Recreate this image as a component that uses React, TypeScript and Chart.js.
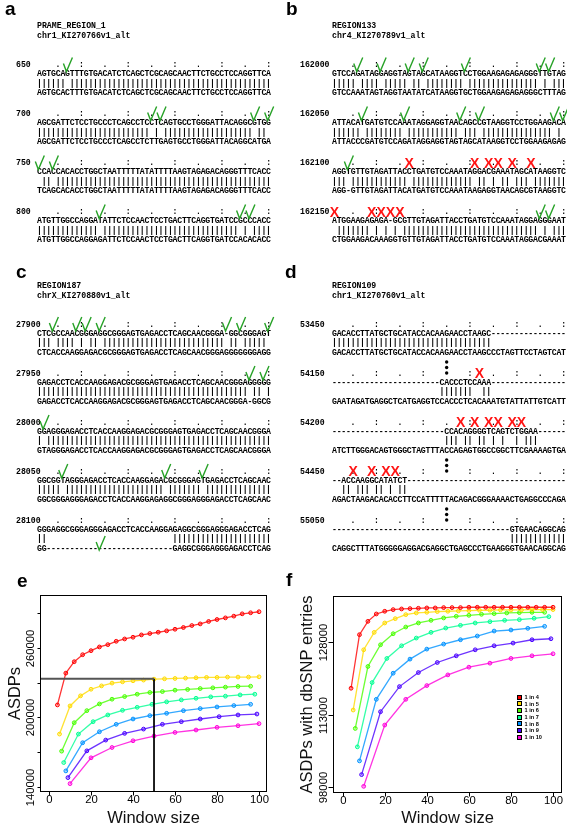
import React, { useEffect, useRef } from "react";
import { Chart, registerables } from "chart.js";
Chart.register(...registerables);

// ---------------- chart data (panels e, f) ----------------
const seriesLabels = ["1 in 4", "1 in 5", "1 in 6", "1 in 7", "1 in 8", "1 in 9", "1 in 10"];
const seriesColors = ["#FF0000", "#FFDB00", "#49FF00", "#00FF92", "#0092FF", "#4900FF", "#FF00DB"];

const xIn4 = [4, 8, 12, 16, 20, 24, 28, 32, 36, 40, 44, 48, 52, 56, 60, 64, 68, 72, 76, 80, 84, 88, 92, 96, 100];
const xIn5 = [5, 10, 15, 20, 25, 30, 35, 40, 45, 50, 55, 60, 65, 70, 75, 80, 85, 90, 95, 100];
const xIn6 = [6, 12, 18, 24, 30, 36, 42, 48, 54, 60, 66, 72, 78, 84, 90, 96];
const xIn7 = [7, 14, 21, 28, 35, 42, 49, 56, 63, 70, 77, 84, 91, 98];
const xIn8 = [8, 16, 24, 32, 40, 48, 56, 64, 72, 80, 88, 96];
const xIn9 = [9, 18, 27, 36, 45, 54, 63, 72, 81, 90, 99];
const xIn10 = [10, 20, 30, 40, 50, 60, 70, 80, 90, 100];

// e: ASDPs
const eIn4 = [210850, 238300, 248150, 254200, 257700, 260900, 262900, 265800, 267800, 269300, 271300, 272500, 273600, 274800, 276200, 277700, 279400, 280800, 282900, 284600, 286000, 287500, 289500, 290400, 291300];
const eIn5 = [185700, 210000, 218700, 224400, 227300, 229700, 230800, 231700, 232300, 233100, 233400, 233700, 234000, 234300, 234600, 234600, 234900, 234900, 234900, 235100];
const eIn6 = [170950, 195500, 205900, 211700, 215800, 218100, 220100, 221600, 222400, 223600, 224200, 225000, 225600, 226200, 226800, 227000];
const eIn7 = [161100, 185700, 196400, 202200, 206200, 208800, 211400, 213500, 215200, 216600, 217800, 218400, 219500, 220100];
const eIn8 = [153900, 178200, 187700, 194100, 198700, 201600, 203600, 205900, 207700, 209100, 210300, 211400];
const eIn9 = [148100, 171200, 180500, 186300, 190000, 194100, 196400, 198700, 200700, 202200, 203000];
const eIn10 = [142900, 165200, 174100, 179900, 184000, 187100, 189200, 191500, 192900, 194700];

// f: ASDPs with dbSNP entries
const fIn4 = [118490, 129600, 132370, 133900, 134460, 134800, 134940, 135010, 135080, 135150, 135150, 135220, 135220, 135220, 135290, 135290, 135290, 135290, 135290, 135290, 135290, 135290, 135290, 135290, 135290];
const fIn5 = [113970, 126470, 130080, 132030, 132930, 133760, 134110, 134250, 134390, 134460, 134530, 134600, 134670, 134670, 134740, 134740, 134740, 134810, 134810, 134810];
const fIn6 = [110150, 123000, 127510, 129800, 131190, 132030, 132580, 133070, 133410, 133620, 133830, 133970, 134110, 134180, 134250, 134250];
const fIn7 = [106330, 119670, 124670, 127300, 128900, 130080, 130980, 131540, 132030, 132300, 132580, 132720, 133000, 133340];
const fIn8 = [103420, 116190, 121610, 124530, 126610, 127650, 128550, 129320, 130360, 130570, 130920, 131330];
const fIn9 = [100570, 113620, 118830, 121750, 123830, 125220, 126470, 127300, 127860, 128550, 128760];
const fIn10 = [98140, 110850, 116190, 119040, 121260, 122860, 123690, 124670, 125220, 125640];

const seriesX = [xIn4, xIn5, xIn6, xIn7, xIn8, xIn9, xIn10];
const eSeries = [eIn4, eIn5, eIn6, eIn7, eIn8, eIn9, eIn10];
const fSeries = [fIn4, fIn5, fIn6, fIn7, fIn8, fIn9, fIn10];

const xTicks = [0, 20, 40, 60, 80, 100];
const eYTicks = [140000, 170000, 200000, 230000, 260000, 290000];
const eYTickLabels = ["140000", "", "200000", "", "260000", ""];
const fYTicks = [98000, 113000, 128000];
const fYTickLabels = ["98000", "113000", "128000"];
const eRefY = 233400;
const eRefX = 50;

// ---------------- alignment data (panels a-d) ----------------
type Block = {
  num: string; s1: string; s2: string;
  checks?: number[]; lowChecks?: number[]; crosses?: number[]; gaps?: number[]; dots?: boolean;
};
type Panel = { label: string; labelX: number; labelY: number; t1: string; t2: string; titleY: number; numX: number; seqX: number; y0: number; blocks: Block[] };

const D = (n: number) => "-".repeat(n);

const panelA: Block[] = [
  { num: "650", s1: "AGTGCAGTTTGTGACATCTCAGCTCGCAGCAACTTCTGCCTCCAGGTTCA", s2: "AGTGCACTTTGTGACATCTCAGCTCGCAGCAACTTCTGCCTCCAGGTTCA", checks: [6] },
  { num: "700", s1: "AGCGATTCTCCTGCCCTCAGCCTCCTCAGTGCCTGGGATTACAGGCGTGG", s2: "AGCGATTCTCCTGCCCTCAGCCTCTTGAGTGCCTGGGATTACAGGCATGA", checks: [24, 26, 46, 49] },
  { num: "750", s1: "CCACCACACCTGGCTAATTTTTATATTTTAAGTAGAGACAGGGTTTCACC", s2: "TCAGCACACCTGGCTAATTTTTATATTTTAAGTAGAGACAGGGTTTCACC", checks: [0, 3] },
  { num: "800", s1: "ATGTTGGCCAGGATATTCTCCAACTCCTGACTTCAGGTGATCCGCCCACC", s2: "ATGTTGGCCAGGAGATTCTCCAACTCCTGACTTCAGGTGATCCACACACC", checks: [13, 43, 45] },
];
const panelB: Block[] = [
  { num: "162000", s1: "GTCCAGATAGGAGGTAGTAGCATAAGGTCCTGGAAGAGAGAGGGTTGTAG", s2: "GTCCAAATAGTAGGTAATATCATAAGGTGCTGGAAGAGAGAGGGCTTTAG", checks: [5, 10, 16, 19, 28, 44, 46] },
  { num: "162050", s1: "ATTACATGATGTCCAAATAGGAGGTAACAGCCGTAAGGTCCTGGAAGACA", s2: "ATTACCCGATGTCCAGATAGGAGGTAGTAGCATAAGGTCCTGGAAGAGAG", checks: [6, 15, 27, 31, 47, 49] },
  { num: "162100", s1: "AGGTGTTGTAGATTACCTGATGTCCAAATAGGACGAAATAGCATAAGGTC", s2: "AGG-GTTGTAGATTACATGATGTCCAAATAAGAGGTAACAGCGTAAGGTC", checks: [3], crosses: [16, 30, 33, 35, 38, 42] },
  { num: "162150", s1: "ATGGAAGAGAGA-GCGTTGTAGATTACCTGATGTCCAAATAGGAGGGAAT", s2: "CTGGAAGACAAAGGTGTTGTAGATTACCTGATGTCCAAATAGGACGAAAT", checks: [44, 46], crosses: [0, 8, 10, 12, 14] },
];
const panelC: Block[] = [
  { num: "27900", s1: "CTCGCCAACGGGAGGCGGGAGTGAGACCTCAGCAACGGGA-GGCGGGAGT", s2: "CTCACCAAGGAGACGCGGGAGTGAGACCTCAGCAACGGGAGGGGGGGAGG", checks: [3, 8, 10, 13, 40, 43, 49] },
  { num: "27950", s1: "GAGACCTCACCAAGGAGACGCGGGAGTGAGACCTCAGCAACGGGAGGGGG", s2: "GAGACCTCACCAAGGAGACGCGGGAGTGAGACCTCAGCAACGGGA-GGCG", checks: [45, 48] },
  { num: "28000", s1: "GGAGGGAGACCTCACCAAGGAGACGCGGGAGTGAGACCTCAGCAACGGGA", s2: "GTAGGGAGACCTCACCAAGGAGACGCGGGAGTGAGACCTCAGCAACGGGA", checks: [1] },
  { num: "28050", s1: "GGCGGTAGGGAGACCTCACCAAGGAGACGCGGGAGTGAGACCTCAGCAAC", s2: "GGCGGGAGGGAGACCTCACCAAGGAGAGGCGGGAGGGAGACCTCAGCAAC", checks: [5, 27, 35] },
  { num: "28100", s1: "GGGAGGCGGGAGGGAGACCTCACCAAGGAGAGGCGGGAGGGAGACCTCAG", s2: "GG" + D(27) + "GAGGCGGGAGGGAGACCTCAG", lowChecks: [13] },
];
const panelD: Block[] = [
  { num: "53450", s1: "GACACCTTATGCTGCATACCACAAGAACCTAAGC" + D(16), s2: "GACACCTTATGCTGCATACCACAAGAACCTAAGCCCTAGTTCCTAGTCAT" },
  { num: "54150", s1: D(23) + "CACCCTCCAAA" + D(16), s2: "GAATAGATGAGGCTCATGAGGTCCACCCTCACAAATGTATTATTGTCATT", crosses: [31], gaps: [30, 31], dots: true },
  { num: "54200", s1: D(24) + "CCACAGGGGTCAGTCTGGAA" + D(6), s2: "ATCTTGGGACAGTGGGCTAGTTTACCAGAGTGGCCGGCTTCGAAAAGTGA", crosses: [27, 30, 33, 35, 38, 40], gaps: [27, 30, 33, 35, 37, 38, 40] },
  { num: "54450", s1: D(2) + "ACCAAGGCATATCT" + D(34), s2: "AGACTAAGACACACCTTCCATTTTTACAGACGGGAAAACTGAGGCCCAGA", crosses: [4, 8, 11, 13], dots: true },
  { num: "55050", s1: D(38) + "GTGAACAGGCAG", s2: "CAGGCTTTATGGGGGAGGACGAGGCTGAGCCCTGAAGGGTGAACAGGCAG", dots: true },
];

const panels: Panel[] = [
  { label: "a", labelX: 5, labelY: 15, t1: "PRAME_REGION_1", t2: "chr1_KI270766v1_alt", titleY: 25.5, numX: 16, seqX: 37, y0: 64.5, blocks: panelA },
  { label: "b", labelX: 286, labelY: 15, t1: "REGION133", t2: "chr4_KI270789v1_alt", titleY: 25.5, numX: 300, seqX: 332, y0: 64.5, blocks: panelB },
  { label: "c", labelX: 16, labelY: 278, t1: "REGION187", t2: "chrX_KI270880v1_alt", titleY: 285, numX: 16, seqX: 37, y0: 324, blocks: panelC },
  { label: "d", labelX: 285, labelY: 278, t1: "REGION109", t2: "chr1_KI270760v1_alt", titleY: 285, numX: 300, seqX: 332, y0: 324, blocks: panelD },
];

const CW = 4.68;
const NCH = 50;
const BLOCK_STEP = 49;
const MONO = '"Liberation Mono", "DejaVu Sans Mono", monospace';
const SANS = '"Liberation Sans", Arial, sans-serif';
const GREEN = "#28a228";
const RED = "#ff1414";

function Check({ cx, cy }: { cx: number; cy: number }) {
  return <path d={`M${cx - 4},${cy - 1} L${cx - 1},${cy + 7} L${cx + 5},${cy - 7}`} stroke={GREEN} strokeWidth={1.4} fill="none" strokeLinejoin="miter" />;
}

function PanelSvg({ p }: { p: Panel }) {
  const els: React.ReactNode[] = [];
  p.blocks.forEach((b, bi) => {
    const y0 = p.y0 + bi * BLOCK_STEP;
    const cx = (i: number) => p.seqX + (i + 0.5) * CW;
    els.push(<text key={`n${bi}`} x={p.numX} y={y0} dominantBaseline="central">{b.num}</text>);
    for (let i = 0; i < NCH; i++) {
      if ((i + 1) % 5 !== 0) continue;
      if (b.dots && i === 24) continue;
      els.push(<text key={`m${bi}-${i}`} x={cx(i)} y={y0} textAnchor="middle" dominantBaseline="central">{(i + 1) % 10 === 0 ? ":" : "."}</text>);
    }
    const gaps = new Set(b.gaps ?? [...(b.checks ?? []), ...(b.crosses ?? [])]);
    let bars = "";
    for (let i = 0; i < NCH; i++) {
      const ok = b.s1[i] !== "-" && b.s2[i] !== "-" && !gaps.has(i);
      bars += ok ? "|" : " ";
    }
    els.push(<text key={`s1${bi}`} x={p.seqX} y={y0 + 9} dominantBaseline="central" textLength={NCH * CW} lengthAdjust="spacing">{b.s1}</text>);
    els.push(<text key={`b${bi}`} x={p.seqX} y={y0 + 18.5} dominantBaseline="central" textLength={NCH * CW} lengthAdjust="spacing" xmlSpace="preserve" style={{ whiteSpace: "pre" }}>{bars}</text>);
    els.push(<text key={`s2${bi}`} x={p.seqX} y={y0 + 28} dominantBaseline="central" textLength={NCH * CW} lengthAdjust="spacing">{b.s2}</text>);
    (b.checks ?? []).forEach((i) => els.push(<Check key={`c${bi}-${i}`} cx={cx(i)} cy={y0} />));
    (b.lowChecks ?? []).forEach((i) => els.push(<Check key={`lc${bi}-${i}`} cx={cx(i)} cy={y0 + 23} />));
    (b.crosses ?? []).forEach((i) => els.push(
      <text key={`x${bi}-${i}`} x={cx(i)} y={y0 + 5} textAnchor="middle" fill={RED} stroke="none" style={{ font: `bold 14px ${SANS}` }}>X</text>
    ));
    if (b.dots) {
      [-11, -5.5, 0].forEach((dy, k) => els.push(<circle key={`d${bi}-${k}`} cx={cx(24)} cy={y0 + dy} r={1.7} fill="#000" />));
    }
  });
  return (
    <g style={{ font: `bold 8.2px ${MONO}` }} fill="#000">
      <text x={p.labelX} y={p.labelY} style={{ font: `bold 19px ${SANS}` }}>{p.label}</text>
      <text x={p.seqX} y={p.titleY} dominantBaseline="central">{p.t1}</text>
      <text x={p.seqX} y={p.titleY + 10} dominantBaseline="central">{p.t2}</text>
      {els}
    </g>
  );
}

// ---------------- Chart.js line panels ----------------
type ChartCfg = {
  left: number; top: number; width: number; height: number;
  pad: { left: number; top: number; right: number; bottom: number };
  xMin: number; xMax: number; yMin: number; yMax: number;
  ys: number[][]; yTicks: number[]; yTickLabels: string[]; yTitle: string; yTitleX: number;
  refLines?: boolean; yTickLen: number;
};

function withAlpha(hex: string, a: number) {
  const r = parseInt(hex.slice(1, 3), 16), g = parseInt(hex.slice(3, 5), 16), b = parseInt(hex.slice(5, 7), 16);
  return `rgba(${r},${g},${b},${a})`;
}

function RChart({ cfg }: { cfg: ChartCfg }) {
  const ref = useRef<HTMLCanvasElement>(null);
  useEffect(() => {
    const datasets: any[] = cfg.ys.map((y, si) => ({
      label: seriesLabels[si],
      data: seriesX[si].map((x, i) => ({ x, y: y[i] })),
      borderColor: withAlpha(seriesColors[si], 0.8),
      backgroundColor: seriesColors[si],
      borderWidth: 1.3,
      pointRadius: 1.9,
      pointBorderWidth: 1,
      pointBorderColor: seriesColors[si],
      pointBackgroundColor: withAlpha(seriesColors[si], 0.35),
      tension: 0,
      fill: false,
      order: 2,
    }));
    if (cfg.refLines) {
      datasets.push({
        label: "ref-h", data: [{ x: cfg.xMin, y: eRefY }, { x: eRefX, y: eRefY }],
        borderColor: "#555", borderWidth: 2, pointRadius: 0, tension: 0, fill: false, order: 1,
      });
      datasets.push({
        label: "ref-v", data: [{ x: eRefX, y: eRefY }, { x: eRefX, y: cfg.yMin }],
        borderColor: "#000", borderWidth: 1, pointRadius: 0, tension: 0, fill: false, order: 1,
      });
    }
    const axesPlugin = {
      id: "rAxes",
      afterDraw(chart: any) {
        const { ctx, chartArea: a } = chart;
        const xs = chart.scales.x, ysc = chart.scales.y;
        ctx.save();
        ctx.strokeStyle = "#000";
        ctx.lineWidth = 1;
        const L = Math.round(a.left) + 0.5, R = Math.round(a.right) - 0.5;
        const T = Math.round(a.top) + 0.5, B = Math.round(a.bottom) - 0.5;
        ctx.strokeRect(L, T, R - L, B - T);
        ctx.fillStyle = "#000";
        ctx.font = `11.3px ${SANS}`;
        ctx.textAlign = "center";
        ctx.textBaseline = "middle";
        xTicks.forEach((v) => {
          const px = Math.round(xs.getPixelForValue(v)) + 0.5;
          ctx.beginPath(); ctx.moveTo(px, B); ctx.lineTo(px, B + 4); ctx.stroke();
          ctx.fillText(String(v), px, B + 8.5);
        });
        cfg.yTicks.forEach((v, i) => {
          const py = Math.round(ysc.getPixelForValue(v)) + 0.5;
          ctx.beginPath(); ctx.moveTo(L - cfg.yTickLen, py); ctx.lineTo(L, py); ctx.stroke();
          const lab = cfg.yTickLabels[i];
          if (lab) {
            ctx.save(); ctx.translate(L - 9.5, py); ctx.rotate(-Math.PI / 2); ctx.fillText(lab, 0, 0); ctx.restore();
          }
        });
        ctx.font = `16.5px ${SANS}`;
        ctx.fillStyle = "#111";
        ctx.fillText("Window size", (L + R) / 2, 258);
        ctx.save(); ctx.translate(cfg.yTitleX, (T + B) / 2); ctx.rotate(-Math.PI / 2); ctx.fillText(cfg.yTitle, 0, 0); ctx.restore();
        ctx.restore();
      },
    };
    const chart = new Chart(ref.current as HTMLCanvasElement, {
      type: "line",
      data: { datasets },
      options: {
        animation: false,
        responsive: false,
        maintainAspectRatio: false,
        devicePixelRatio: 1,
        layout: { padding: cfg.pad },
        plugins: { legend: { display: false }, tooltip: { enabled: false } },
        scales: {
          x: { type: "linear", min: cfg.xMin, max: cfg.xMax, display: false },
          y: { type: "linear", min: cfg.yMin, max: cfg.yMax, display: false },
        },
      },
      plugins: [axesPlugin],
    } as any);
    return () => chart.destroy();
  }, []);
  return (
    <canvas ref={ref} width={cfg.width} height={cfg.height}
      style={{ position: "absolute", left: cfg.left, top: cfg.top, width: cfg.width, height: cfg.height }} />
  );
}

const eCfg: ChartCfg = {
  left: 0, top: 560, width: 283, height: 266,
  pad: { left: 40, top: 35, right: 16, bottom: 34 },
  xMin: -4.3, xMax: 103.8, yMin: 135683, yMax: 305755,
  ys: eSeries, yTicks: eYTicks, yTickLabels: eYTickLabels, yTitle: "ASDPs", yTitleX: 15,
  refLines: true, yTickLen: 3,
};
const fCfg: ChartCfg = {
  left: 283, top: 560, width: 284, height: 266,
  pad: { left: 50, top: 36, right: 4, bottom: 33 },
  xMin: -4.59, xMax: 104.26, yMin: 96755, yMax: 137627,
  ys: fSeries, yTicks: fYTicks, yTickLabels: fYTickLabels, yTitle: "ASDPs with dbSNP entries", yTitleX: 24,
  yTickLen: 5,
};

export default function App() {
  return (
    <div style={{ position: "absolute", left: 0, top: 0, width: 567, height: 826, background: "#fff", overflow: "hidden" }}>
      <RChart cfg={eCfg} />
      <RChart cfg={fCfg} />
      <svg width={567} height={826} style={{ position: "absolute", left: 0, top: 0, pointerEvents: "none" }}>
        {panels.map((p) => <PanelSvg key={p.label} p={p} />)}
        <text x={17} y={587} style={{ font: `bold 19px ${SANS}` }}>e</text>
        <text x={286} y={586} style={{ font: `bold 19px ${SANS}` }}>f</text>
      </svg>
      {seriesLabels.map((lab, i) => (
        <div key={lab} style={{ position: "absolute", left: 517, top: 697 + i * 6.67 - 3, height: 6, display: "flex", alignItems: "center" }}>
          <div style={{ width: 3, height: 3, background: seriesColors[i], border: "0.8px solid #000" }} />
          <span style={{ marginLeft: 2.5, font: `bold 5.6px ${SANS}`, lineHeight: "6px", whiteSpace: "nowrap" }}>{lab}</span>
        </div>
      ))}
    </div>
  );
}
